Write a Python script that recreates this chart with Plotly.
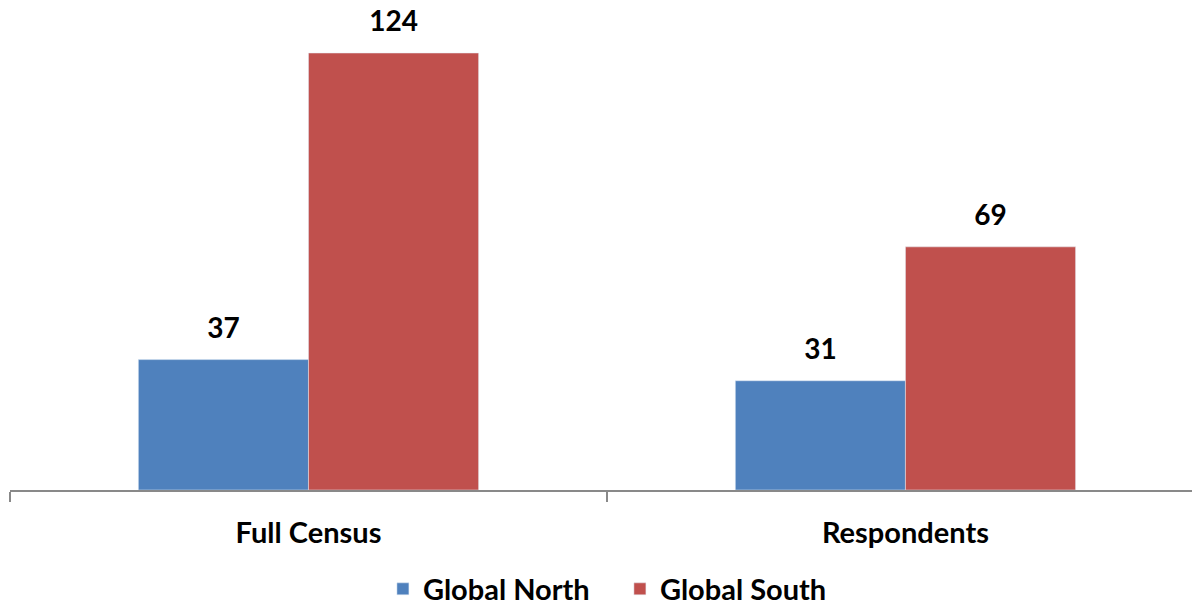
import plotly.graph_objects as go

categories = ["Full Census", "Respondents"]
north = [37, 31]
south = [124, 69]
series = [("Global North", north, "#4F81BD"), ("Global South", south, "#C0504D")]

FONT = "Lato"
SIZE = 29

fig = go.Figure()
for name, vals, color in series:
    fig.add_trace(go.Bar(name=name, x=categories, y=vals, marker_color=color,
                         offsetgroup=name, hoverinfo="x+y"))
for name, vals, color in series:
    fig.add_trace(go.Scatter(x=categories, y=vals, text=vals, mode="markers+text",
                             textposition="top center", offsetgroup=name,
                             marker=dict(size=22, opacity=0), showlegend=False,
                             cliponaxis=False, hoverinfo="skip",
                             textfont=dict(family=FONT, size=28, color="black", weight="bold")))
fig.update_layout(
    width=1192, height=605,
    margin=dict(l=10, r=0, t=0, b=115, autoexpand=False),
    plot_bgcolor="white", paper_bgcolor="white",
    barmode="group", bargap=0.43, bargroupgap=0,
    scattermode="group", scattergap=0.43,
    font=dict(family=FONT, size=SIZE, color="black"),
    showlegend=True,
    legend=dict(orientation="h", x=0.516, xanchor="center", y=-0.202, yanchor="middle",
                font=dict(family=FONT, size=SIZE, color="black", weight="bold"),
                itemwidth=30, entrywidth=192, entrywidthmode="pixels", traceorder="normal"),
)
fig.update_xaxes(type="category", range=[-0.5, 1.48], tickson="boundaries",
                 ticks="outside", ticklen=10, tickwidth=2, tickcolor="#898989",
                 showline=True, linecolor="#898989", linewidth=2,
                 tickfont=dict(family=FONT, size=SIZE, color="black", weight="bold"),
                 ticklabelstandoff=16, showgrid=False, automargin=False)
fig.update_yaxes(range=[0, 139.05], visible=False, showgrid=False, automargin=False)
fig.write_html("out.html")
